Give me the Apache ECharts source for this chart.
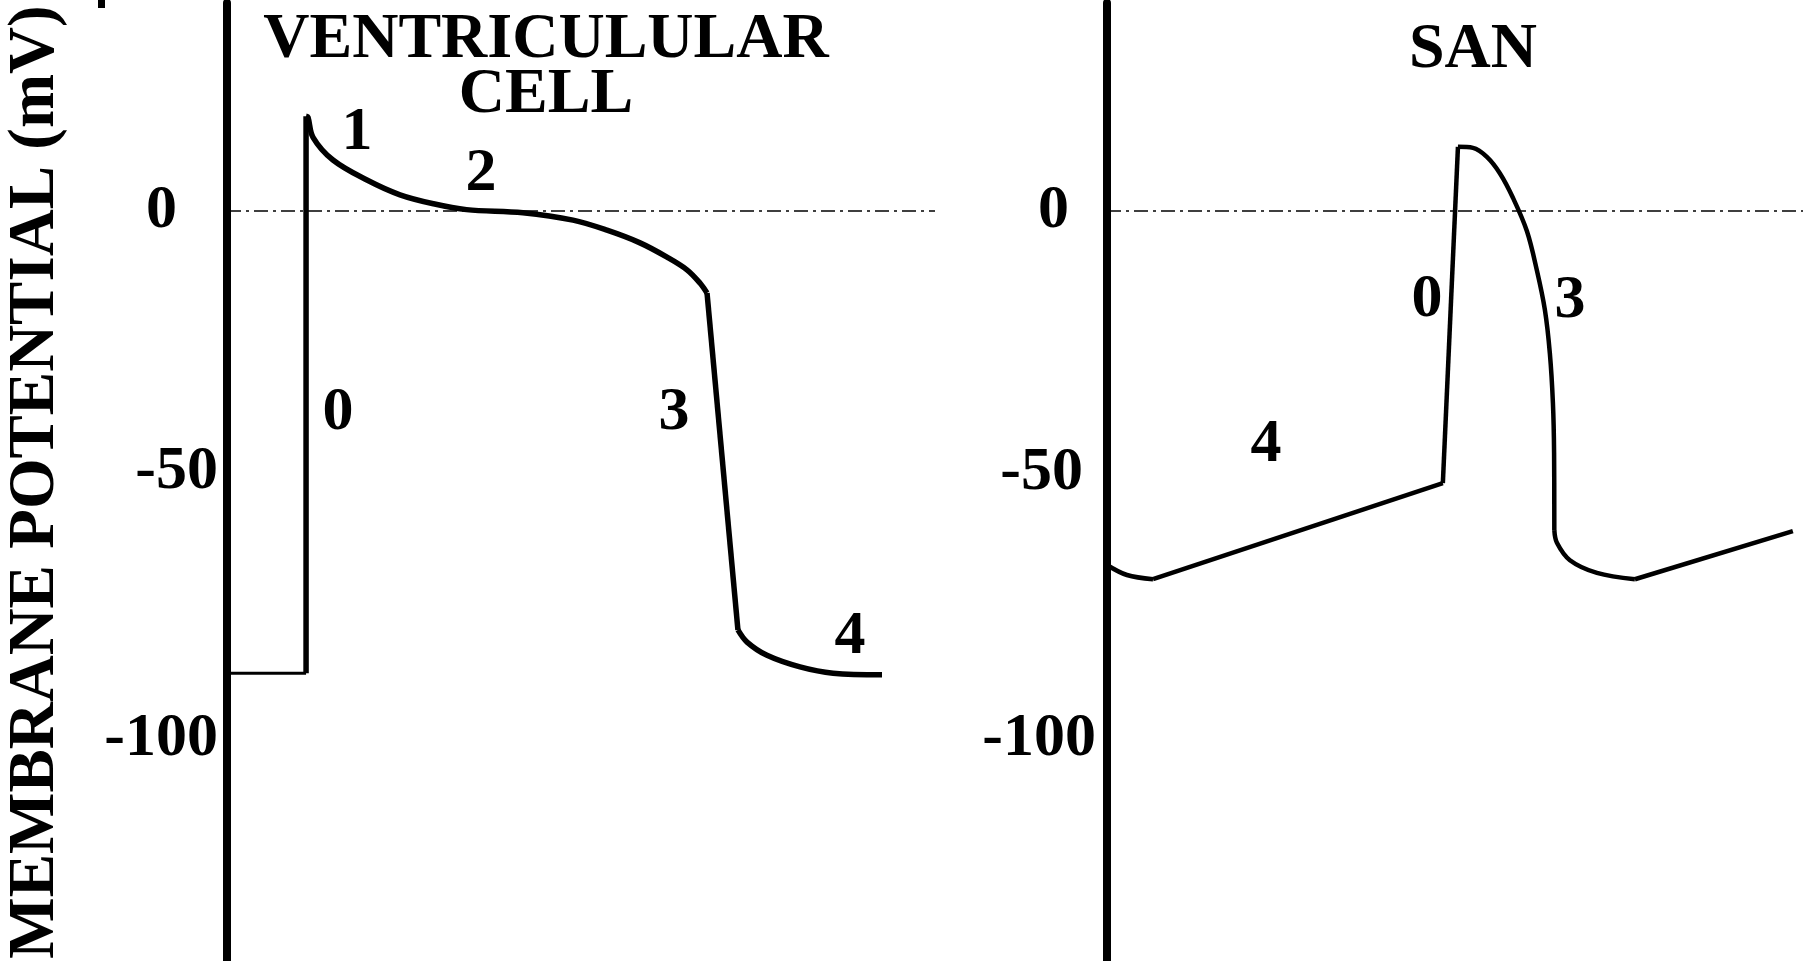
<!DOCTYPE html>
<html>
<head>
<meta charset="utf-8">
<title>Membrane potential</title>
<script src="https://cdn.jsdelivr.net/npm/echarts@6/dist/echarts.min.js"></script>
<style>
html, body { margin: 0; padding: 0; background: #fff; }
#chart { width: 1814px; height: 961px; }
</style>
</head>
<body>
<div id="chart"></div>
<script>
// ventricular cell: [time (ms), potential (mV)]
var ventRest = [[0, -87.5], [67, -87.5]];
var ventPhase0 = [[67, -87.5], [67, 18]];
var ventPhase12 = [[67, 18], [68.6, 17.8], [72.9, 14.0], [89.8, 9.7], [118.6, 5.9], [146.6, 3.1],
  [175, 1.4], [203, 0.3], [250.8, -0.3], [293.2, -1.7], [322, -3.6], [350, -6.0],
  [372.9, -8.7], [389.8, -11.1], [400.8, -13.6], [406.8, -15.5]];
var ventPhase3 = [[406.8, -15.5], [433, -79.3]];
var ventPhase4 = [[433, -79.3], [440.7, -81.6], [457.6, -84.1], [485.6, -86.3], [513.6, -87.5], [555.1, -87.8]];

// SA node
var sanDip = [[0, -67], [16.9, -68.9], [39, -69.7]];
var sanPhase4 = [[39, -69.7], [284.7, -51.5]];
var sanPhase0 = [[284.7, -51.5], [297.5, 12.2]];
var sanPhase3 = [[297.5, 12.2], [310.2, 12.0], [322, 10.3], [333, 7.2], [344, 2.6], [356, -3.8],
  [364.4, -11.2], [371.2, -18.7], [375.4, -26.9], [378, -36.3], [379, -45.8], [379.2, -60.4]];
var sanRecovery = [[379.2, -60.4], [381.4, -62.8], [392.4, -66.1], [415.3, -68.5], [447.5, -69.7]];
var sanPhase4b = [[447.5, -69.7], [581.4, -60.6]];

// phase numbers
var ventPhaseLabels = [[110.2, 14.8, '1'], [215.3, 7.1, '2'], [94, -38.3, '0'], [378.8, -38.3, '3'], [528, -80.7, '4']];
var sanPhaseLabels = [[271.2, -16.9, '0'], [392.4, -17.0, '3'], [134.7, -44.3, '4']];

var tickValues = [0, -50, -100];

var serif = "'Liberation Serif', 'Times New Roman', serif";

function seg(data, idx, width, smooth) {
  return {
    type: 'line',
    xAxisIndex: idx,
    yAxisIndex: idx,
    data: data,
    showSymbol: false,
    smooth: smooth ? 0.35 : false,
    silent: true,
    lineStyle: { color: '#000', width: width, join: 'miter', cap: 'butt' },
    z: 3
  };
}

function zeroLine(idx) {
  return {
    type: 'line',
    xAxisIndex: idx,
    yAxisIndex: idx,
    data: [],
    silent: true,
    markLine: {
      symbol: 'none',
      silent: true,
      label: { show: false },
      lineStyle: { color: '#000', width: 1.6, type: [14, 5, 3, 5] },
      data: [{ yAxis: 0 }]
    }
  };
}

function phaseText(data, idx) {
  return {
    type: 'scatter',
    xAxisIndex: idx,
    yAxisIndex: idx,
    data: data,
    symbolSize: 0,
    silent: true,
    itemStyle: { opacity: 1 },
    label: {
      show: true,
      position: 'inside',
      formatter: function (p) { return p.data[2]; },
      color: '#000',
      fontFamily: serif,
      fontWeight: 'bold',
      fontSize: 62
    }
  };
}

function yAxisFor(idx, pads, name) {
  var rich = {};
  tickValues.forEach(function (v, i) {
    rich['t' + i] = { fontFamily: serif, fontWeight: 'bold', fontSize: 62, color: '#000', padding: pads[i] };
  });
  return {
    type: 'value',
    gridIndex: idx,
    min: -142,
    max: 39.43,
    name: name,
    nameLocation: 'middle',
    nameRotate: 90,
    nameGap: 158,
    nameTextStyle: { fontFamily: serif, fontWeight: 'bold', fontSize: 65, color: '#000' },
    axisLine: { show: true, onZero: false, lineStyle: { color: '#000', width: 8 } },
    axisTick: { show: false },
    splitLine: { show: false },
    axisLabel: {
      customValues: tickValues,
      margin: 8,
      formatter: function (v) {
        var i = tickValues.indexOf(v);
        return '{t' + i + '|' + v + '}';
      },
      rich: rich
    }
  };
}

var myChart = echarts.init(document.getElementById('chart'));

var option = {
  backgroundColor: '#fff',
  animation: false,
  title: [
    {
      text: 'VENTRICULULAR\nCELL',
      left: 546, top: 13, textAlign: 'center', padding: 0,
      textStyle: { fontFamily: serif, fontWeight: 'bold', fontSize: 64, lineHeight: 55, color: '#000' }
    },
    {
      text: 'SAN',
      left: 1473, top: 23, textAlign: 'center', padding: 0,
      textStyle: { fontFamily: serif, fontWeight: 'bold', fontSize: 64, lineHeight: 55, color: '#000' }
    }
  ],
  graphic: [
    { type: 'rect', shape: { x: 98, y: 0, width: 7, height: 8 }, style: { fill: '#000' } }
  ],
  grid: [
    { left: 227, top: 3, width: 708, bottom: 0 },
    { left: 1107, top: 3, width: 696, bottom: 0 }
  ],
  xAxis: [
    { type: 'value', gridIndex: 0, min: 0, max: 600, show: false },
    { type: 'value', gridIndex: 1, min: 0, max: 590, show: false }
  ],
  yAxis: [
    yAxisFor(0, [[0, 42, 0, 0], [0, 1, 6, 0], [0, 1, 0, 0]], 'MEMBRANE POTENTIAL (mV)'),
    yAxisFor(1, [[0, 30, 0, 0], [0, 16, 4, 0], [0, 3, 0, 0]], '')
  ],
  series: [
    zeroLine(0),
    zeroLine(1),
    seg(ventRest, 0, 3, false),
    seg(ventPhase0, 0, 5.5, false),
    seg(ventPhase12, 0, 5.5, true),
    seg(ventPhase3, 0, 5.5, false),
    seg(ventPhase4, 0, 5.5, true),
    seg(sanDip, 1, 4.5, true),
    seg(sanPhase4, 1, 4.5, false),
    seg(sanPhase0, 1, 4.5, false),
    seg(sanPhase3, 1, 4.5, true),
    seg(sanRecovery, 1, 4.5, true),
    seg(sanPhase4b, 1, 4.5, false),
    phaseText(ventPhaseLabels, 0),
    phaseText(sanPhaseLabels, 1)
  ]
};

myChart.setOption(option);
</script>
</body>
</html>
